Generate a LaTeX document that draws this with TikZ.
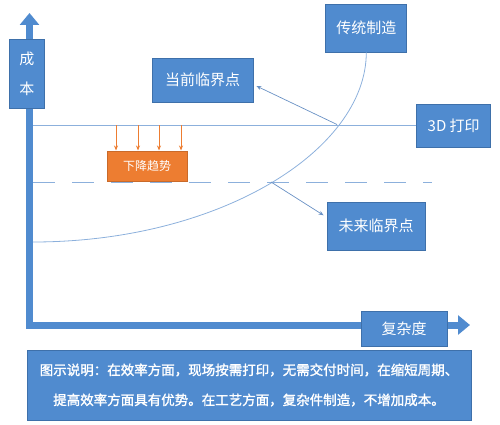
\documentclass[tikz,border=0pt]{standalone}
\usepackage{fontspec}
\newfontfamily\cjk{Noto Sans CJK SC}
\newfontfamily\cjkbold[FakeBold=1.6]{Noto Sans CJK SC}
\usetikzlibrary{arrows.meta,positioning,calc}
\usepackage{xcolor}
\definecolor{boxblue}{RGB}{80,139,207}
\definecolor{boxedge}{RGB}{62,112,170}
\definecolor{lineblue}{RGB}{140,176,220}
\definecolor{pointblue}{RGB}{105,145,196}
\definecolor{trendorange}{RGB}{237,125,49}

\begin{document}
\begin{tikzpicture}[
    x=1pt, y=-1pt,
    bluebox/.style={draw=boxedge, line width=0.8pt, fill=boxblue, text=white, align=center, inner sep=0pt, font=\cjk\fontsize{15}{30}\selectfont},
    trendbox/.style={draw=trendorange!85!black, line width=0.6pt, fill=trendorange, text=white, inner sep=0pt, font=\cjk\fontsize{12}{14}\selectfont},
    axis/.style={line width=7pt, boxblue, -{Triangle[width=19pt, length=12pt]}},
    pointer/.style={-{Stealth[length=5pt, width=4pt]}, line width=0.7pt, pointblue},
    curveline/.style={line width=0.8pt, lineblue},
    drop/.style={-{Stealth[length=5pt, width=4pt]}, line width=0.8pt, trendorange}
]
\useasboundingbox (0,0) rectangle (500,425);

% axes
\coordinate (ytop) at (29.5,13);
\coordinate (corner) at (29.5,325);
\coordinate (xend) at (470,325);
\draw[axis, line cap=butt] (corner) -- (ytop);
\draw[axis] ([xshift=-3.5pt]corner) -- (xend);

% labels
\node[bluebox, minimum width=35pt, minimum height=69pt] (cost) at (27,73.5) {成\\本};
\node[bluebox, minimum width=86pt, minimum height=35pt] (complex) at (404,328.5) {复杂度};
\node[bluebox, minimum width=101pt, minimum height=44pt] (now) at (202.5,80) {当前临界点};
\node[bluebox, minimum width=81pt, minimum height=48pt] (trad) at (366.3,28) {传统制造};
\node[bluebox, minimum width=74pt, minimum height=43pt] (print) at (453.7,125.5) {3D 打印};
\node[bluebox, minimum width=98pt, minimum height=48.7pt] (future) at (376,226.3) {未来临界点};
\node[trendbox, minimum width=80pt, minimum height=30pt] (trend) at (147,166) {下降趋势};

% cost lines
\draw[curveline] (print.west) -- (print.west -| 33,0);
\draw[curveline, dashed, dash pattern=on 22pt off 17pt] (33,182) -- (432,182);
\coordinate (start) at (33,242);
\draw[curveline] (start) .. controls (220,242) and (366.3,150) .. (trad.south);

% critical points
\coordinate (cur) at (337,124.5);
\coordinate (fut) at (271,182);
\draw[pointer] (cur) -- ([shift={(3,6)}]now.east);
\draw[pointer] (fut) -- ([shift={(-3,-11)}]future.west);

\foreach \x in {116,138,159,181}
  \draw[drop] (\x,125) -- (\x,150.5);

% caption
\node[bluebox, minimum width=444pt, minimum height=70pt, font=\cjkbold\fontsize{13.5}{30}\selectfont] (note) at (249,385)
  {图示说明：在效率方面，现场按需打印，无需交付时间，在缩短周期、\\提高效率方面具有优势。在工艺方面，复杂件制造，不增加成本。};
\end{tikzpicture}
\end{document}
